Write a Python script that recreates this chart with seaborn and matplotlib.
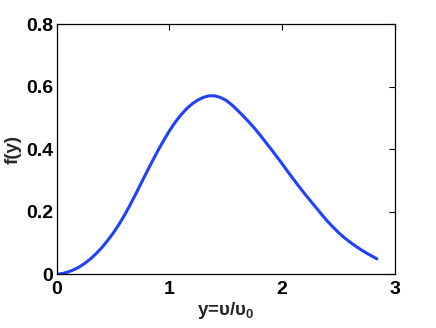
import matplotlib
matplotlib.use("Agg")
import matplotlib.pyplot as plt
import seaborn as sns
import pandas as pd

y_ratio = [0.00, 0.05, 0.10, 0.15, 0.20, 0.25, 0.30, 0.35, 0.40, 0.45,
           0.50, 0.55, 0.60, 0.65, 0.70, 0.75, 0.80, 0.85, 0.90, 0.95,
           1.00, 1.05, 1.10, 1.15, 1.20, 1.25, 1.30, 1.35, 1.40, 1.45,
           1.50, 1.55, 1.60, 1.65, 1.70, 1.75, 1.80, 1.85, 1.90, 1.95,
           2.00, 2.05, 2.10, 2.15, 2.20, 2.25, 2.30, 2.35, 2.40, 2.45,
           2.50, 2.55, 2.60, 2.65, 2.70, 2.75, 2.80, 2.84]
f_vals = [0.000, 0.002, 0.007, 0.014, 0.023, 0.035, 0.049, 0.066, 0.085, 0.107,
          0.131, 0.158, 0.188, 0.221, 0.256, 0.292, 0.328, 0.363, 0.397, 0.429,
          0.459, 0.486, 0.509, 0.529, 0.545, 0.557, 0.566, 0.571, 0.571, 0.566,
          0.557, 0.543, 0.526, 0.508, 0.489, 0.469, 0.447, 0.424, 0.401, 0.377,
          0.353, 0.328, 0.304, 0.280, 0.257, 0.235, 0.213, 0.191, 0.170, 0.151,
          0.133, 0.117, 0.103, 0.090, 0.078, 0.067, 0.057, 0.049]
x_ticks = [0, 1, 2, 3]
y_ticks = [0, 0.2, 0.4, 0.6, 0.8]
y_tick_labels = ["0", "0.2", "0.4", "0.6", "0.8"]

sns.set_style("white")
plt.rcParams['font.family'] = ['Liberation Sans', 'DejaVu Sans']
plt.rcParams['font.weight'] = 'bold'
plt.rcParams['mathtext.fontset'] = 'custom'
plt.rcParams['mathtext.rm'] = 'Liberation Sans:bold'
plt.rcParams['mathtext.bf'] = 'Liberation Sans:bold'
plt.rcParams['mathtext.it'] = 'Liberation Sans:bold'
plt.rcParams['mathtext.default'] = 'bf'

df = pd.DataFrame({"y": y_ratio, "f": f_vals})

fig = plt.figure(figsize=(4.36, 3.28), dpi=100)
ax = fig.add_axes([0.130, 0.164, 0.776, 0.762])
sns.lineplot(data=df, x="y", y="f", ax=ax, color="#2040ff", linewidth=2.2)

ax.set_xlim(0, 3)
ax.set_ylim(0, 0.8)
ax.set_xticks(x_ticks)
ax.set_xticklabels([str(t) for t in x_ticks])
ax.set_yticks(y_ticks)
ax.set_yticklabels(y_tick_labels)
ax.tick_params(direction="in", length=4, width=0.8, top=True, right=True,
               labelsize=14, colors="black")
ax.tick_params(axis="x", pad=5)
ax.tick_params(axis="y", pad=2.5)
for lab in ax.get_xticklabels() + ax.get_yticklabels():
    lab.set_fontweight("bold")
for s in ax.spines.values():
    s.set_color("black")
    s.set_linewidth(0.9)
ax.set_xlabel("y=υ/υ$_0$", fontsize=13.5, fontweight="bold", labelpad=1)
ax.set_ylabel("f(y)", fontsize=13.5, fontweight="bold", labelpad=3)

fig.savefig("out.png", dpi=100)
